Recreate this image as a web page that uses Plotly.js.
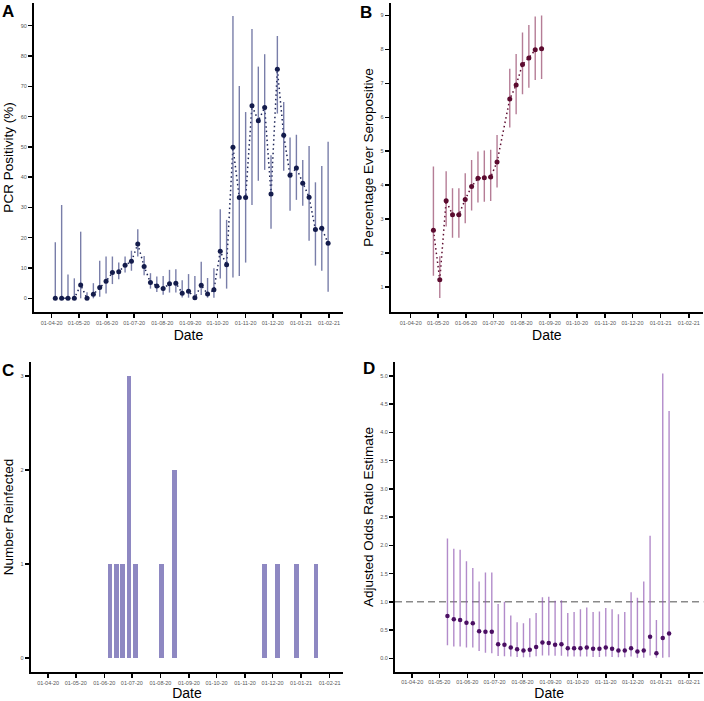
<!DOCTYPE html>
<html>
<head>
<meta charset="utf-8">
<script src="https://cdn.plot.ly/plotly-3.0.1.min.js"></script>
<style>html,body{margin:0;padding:0;background:#fff;}#chart{width:704px;height:701px;}</style>
</head>
<body>
<div id="chart"></div>
<script>
// ---- Panel A: PCR positivity (weekly) ----
const pcrDates = ['2020-04-05','2020-04-12','2020-04-19','2020-04-26','2020-05-03','2020-05-10','2020-05-17','2020-05-24','2020-05-31',
  '2020-06-07','2020-06-14','2020-06-21','2020-06-28','2020-07-05','2020-07-12','2020-07-19','2020-07-26',
  '2020-08-02','2020-08-09','2020-08-16','2020-08-23','2020-08-30','2020-09-06','2020-09-13','2020-09-20','2020-09-27',
  '2020-10-04','2020-10-11','2020-10-18','2020-10-25','2020-11-01','2020-11-08','2020-11-15','2020-11-22','2020-11-29',
  '2020-12-06','2020-12-13','2020-12-20','2020-12-27','2021-01-03','2021-01-10','2021-01-17','2021-01-24','2021-01-31'];
const pcrValue = [0,0,0,0,4.4,0,1.3,3.6,5.6,8.5,8.8,10.9,12.2,17.9,10.5,5.2,4.1,3.2,4.8,5.0,1.7,2.3,0.2,4.3,1.4,2.8,
  15.5,11.1,49.9,33.3,33.3,63.6,58.6,63.0,34.4,75.6,53.8,40.6,43.0,38.0,33.4,22.7,23.1,18.2];
const pcrUpper = [18.5,30.8,7.9,6.6,22.0,2.0,5.0,12.4,13.8,13.8,11.8,13.8,15.7,22.8,14.0,8.3,7.2,7.4,9.4,9.6,6.0,8.0,7.4,12.1,6.7,9.9,
  29.4,25.9,93.2,70.1,61.5,88.9,76.5,80.6,47.2,86.6,64.8,53.1,54.0,45.7,50.3,38.3,43.7,51.7];
const pcrLower = [0,0,0,0,0,0,0,0.5,1.6,4.7,6.3,8.5,9.1,13.8,7.6,3.2,2.1,1.2,1.9,1.9,0.3,0.2,0,1.1,0.2,0.2,
  6.5,3.2,6.9,7.4,11.8,30.8,38.8,42.4,23.0,61.0,42.1,28.9,32.5,30.6,19.0,10.8,9.1,2.2];

// ---- Panel B: percentage ever seropositive ----
const seroDates = ['2020-04-26','2020-05-03','2020-05-10','2020-05-17','2020-05-24','2020-05-31','2020-06-07','2020-06-14',
  '2020-06-21','2020-06-28','2020-07-05','2020-07-19','2020-07-26','2020-08-02','2020-08-09','2020-08-16','2020-08-23'];
const seroValue = [2.67,1.21,3.54,3.13,3.13,3.58,3.96,4.20,4.22,4.24,4.68,6.54,6.95,7.56,7.75,7.99,8.02];
const seroUpper = [4.55,1.90,4.41,3.91,3.91,4.35,4.74,4.99,5.02,5.04,5.48,7.43,7.87,8.50,8.72,8.97,9.00];
const seroLower = [1.33,0.67,2.78,2.45,2.45,2.88,3.25,3.49,3.51,3.53,3.93,5.70,6.09,6.68,6.87,7.10,7.13];

// ---- Panel C: number reinfected ----
const reinfDates = ['2020-06-07','2020-06-14','2020-06-21','2020-06-28','2020-07-05','2020-08-02','2020-08-16',
  '2020-11-22','2020-12-06','2020-12-27','2021-01-17'];
const reinfCount = [1,1,1,3,1,1,2,1,1,1,1];

// ---- Panel D: adjusted odds ratio ----
const orDates = ['2020-05-10','2020-05-17','2020-05-24','2020-05-31','2020-06-07','2020-06-14','2020-06-21','2020-06-28',
  '2020-07-05','2020-07-12','2020-07-19','2020-07-26','2020-08-02','2020-08-09','2020-08-16','2020-08-23','2020-08-30',
  '2020-09-06','2020-09-13','2020-09-20','2020-09-27','2020-10-04','2020-10-11','2020-10-18','2020-10-25',
  '2020-11-01','2020-11-08','2020-11-15','2020-11-22','2020-11-29','2020-12-06','2020-12-13','2020-12-20','2020-12-27',
  '2021-01-03','2021-01-10'];
const orValue = [0.75,0.69,0.68,0.63,0.62,0.48,0.47,0.47,0.25,0.24,0.19,0.16,0.14,0.15,0.20,0.28,0.27,0.24,0.25,
  0.18,0.18,0.18,0.19,0.17,0.17,0.19,0.17,0.14,0.14,0.18,0.12,0.14,0.38,0.09,0.36,0.44];
const orUpper = [2.12,1.94,1.92,1.72,1.60,1.36,1.52,1.52,0.96,1.00,0.76,0.64,0.62,0.71,0.80,1.08,1.09,1.02,1.03,
  0.80,0.82,0.87,0.90,0.82,0.83,0.89,0.87,0.78,0.82,1.17,1.07,1.36,2.17,0.68,5.04,4.38];
const orLower = [0.23,0.21,0.21,0.19,0.19,0.13,0.10,0.09,0.04,0.035,0.03,0.025,0.02,0.02,0.035,0.05,0.05,0.047,0.047,
  0.03,0.03,0.03,0.03,0.025,0.025,0.03,0.025,0.02,0.02,0.03,0.01,0.01,0.05,0.01,0.01,0.02];
const orReference = 1;

const xTickStart = '2020-04-01';

function plus(u, v) { return u.map((a, i) => a - v[i]); }
function minus(v, l) { return v.map((a, i) => a - l[i]); }

const W = 704, H = 701;
const px = x => x / W;
const py = y => 1 - y / H;

const tickFont = {family: 'Liberation Sans, Arial, sans-serif', size: 5.5, color: '#555'};
const titleFont = {family: 'Liberation Sans, Arial, sans-serif', size: 13.5, color: '#000'};

function xaxis(dom, range, anchor) {
  return {
    domain: dom, range: range, anchor: anchor, type: 'date',
    tick0: xTickStart, dtick: 'M1', tickformat: '%d-%m-%y',
    showline: true, linecolor: '#000', linewidth: 2, mirror: false,
    ticks: 'outside', ticklen: 4, tickwidth: 1.5, tickcolor: '#000',
    tickfont: tickFont, showgrid: false, zeroline: false,
    title: {text: 'Date', font: {family: 'Liberation Sans, Arial, sans-serif', size: 14, color: '#000'}, standoff: 6}
  };
}
function yaxis(dom, range, anchor, title, dtick, fmt, standoff) {
  return {
    domain: dom, range: range, anchor: anchor,
    tick0: 0, dtick: dtick, tickformat: fmt,
    showline: true, linecolor: '#000', linewidth: 2, mirror: false,
    ticks: 'outside', ticklen: 4, tickwidth: 1.5, tickcolor: '#000',
    tickfont: tickFont, showgrid: false, zeroline: false,
    title: {text: title, font: titleFont, standoff: standoff}
  };
}

const traces = [
  // Panel A
  {x: pcrDates, y: pcrValue, type: 'scatter', mode: 'lines', xaxis: 'x', yaxis: 'y',
   line: {color: '#1b2356', width: 1.5, dash: '1.5px,3px'}, hoverinfo: 'skip'},
  {x: pcrDates, y: pcrValue, type: 'scatter', mode: 'markers', xaxis: 'x', yaxis: 'y',
   marker: {color: '#141c4c', size: 5},
   error_y: {type: 'data', symmetric: false, array: plus(pcrUpper, pcrValue), arrayminus: minus(pcrValue, pcrLower),
             color: 'rgba(88,94,148,0.8)', thickness: 1.4, width: 0}},
  // Panel B
  {x: seroDates, y: seroValue, type: 'scatter', mode: 'lines', xaxis: 'x2', yaxis: 'y2',
   line: {color: '#5c0b2f', width: 1.5, dash: '1.5px,3px'}, hoverinfo: 'skip'},
  {x: seroDates, y: seroValue, type: 'scatter', mode: 'markers', xaxis: 'x2', yaxis: 'y2',
   marker: {color: '#5c0b2f', size: 5},
   error_y: {type: 'data', symmetric: false, array: plus(seroUpper, seroValue), arrayminus: minus(seroValue, seroLower),
             color: 'rgba(150,70,105,0.7)', thickness: 1.4, width: 0}},
  // Panel C
  {x: reinfDates, y: reinfCount, type: 'bar', xaxis: 'x3', yaxis: 'y3',
   width: 5 * 86400000, marker: {color: '#8e88c2', line: {width: 0}}},
  // Panel D
  {x: orDates, y: orValue, type: 'scatter', mode: 'markers', xaxis: 'x4', yaxis: 'y4',
   marker: {color: '#4b0f63', size: 4.5},
   error_y: {type: 'data', symmetric: false, array: plus(orUpper, orValue), arrayminus: minus(orValue, orLower),
             color: 'rgba(145,90,180,0.7)', thickness: 1.4, width: 0}}
];

const layout = {
  width: W, height: H,
  margin: {l: 0, r: 0, t: 0, b: 0},
  paper_bgcolor: '#fff', plot_bgcolor: '#fff',
  showlegend: false,
  bargap: 0,
  font: {family: 'Liberation Sans, Arial, sans-serif'},
  xaxis: xaxis([px(34), px(343)], ['2020-03-12 12:00', '2021-02-16 10:00'], 'y'),
  yaxis: yaxis([py(312), py(3)], [-4.52, 97.5], 'x', 'PCR Positivity (%)', 10, 'd', 4),
  xaxis2: xaxis([px(390.7), px(703)], ['2020-03-10', '2021-02-16 14:00'], 'y2'),
  yaxis2: yaxis([py(312), py(3)], [0.26, 9.37], 'x2', 'Percentage Ever Seropositive', 1, 'd', 4),
  xaxis3: xaxis([px(30.7), px(343.3)], ['2020-03-13', '2021-02-15 20:00'], 'y3'),
  yaxis3: yaxis([py(672.3), py(361.7)], [-0.15, 3.15], 'x3', 'Number Reinfected', 1, 'd', 4),
  xaxis4: xaxis([px(395), px(703.3)], ['2020-03-13', '2021-02-16 20:00'], 'y4'),
  yaxis4: yaxis([py(671.7), py(362.3)], [-0.237, 5.24], 'x4', 'Adjusted Odds Ratio Estimate', 0.5, '.1f', 4),
  shapes: [
    {type: 'line', xref: 'x4 domain', yref: 'y4', x0: 0, x1: 1, y0: orReference, y1: orReference,
     line: {color: '#8a8a8a', width: 1.5, dash: '7px,4px'}, layer: 'below'}
  ],
  annotations: [
    {text: '<b>A</b>', x: px(0), y: py(0), xref: 'paper', yref: 'paper', xanchor: 'left', yanchor: 'top', showarrow: false,
     font: {family: 'Liberation Sans, Arial, sans-serif', size: 17, color: '#000'}},
    {text: '<b>B</b>', x: px(358), y: py(1), xref: 'paper', yref: 'paper', xanchor: 'left', yanchor: 'top', showarrow: false,
     font: {family: 'Liberation Sans, Arial, sans-serif', size: 17, color: '#000'}},
    {text: '<b>C</b>', x: px(0), y: py(359), xref: 'paper', yref: 'paper', xanchor: 'left', yanchor: 'top', showarrow: false,
     font: {family: 'Liberation Sans, Arial, sans-serif', size: 17, color: '#000'}},
    {text: '<b>D</b>', x: px(361), y: py(357), xref: 'paper', yref: 'paper', xanchor: 'left', yanchor: 'top', showarrow: false,
     font: {family: 'Liberation Sans, Arial, sans-serif', size: 17, color: '#000'}}
  ]
};

Plotly.newPlot('chart', traces, layout, {displayModeBar: false, staticPlot: true});
</script>
</body>
</html>
